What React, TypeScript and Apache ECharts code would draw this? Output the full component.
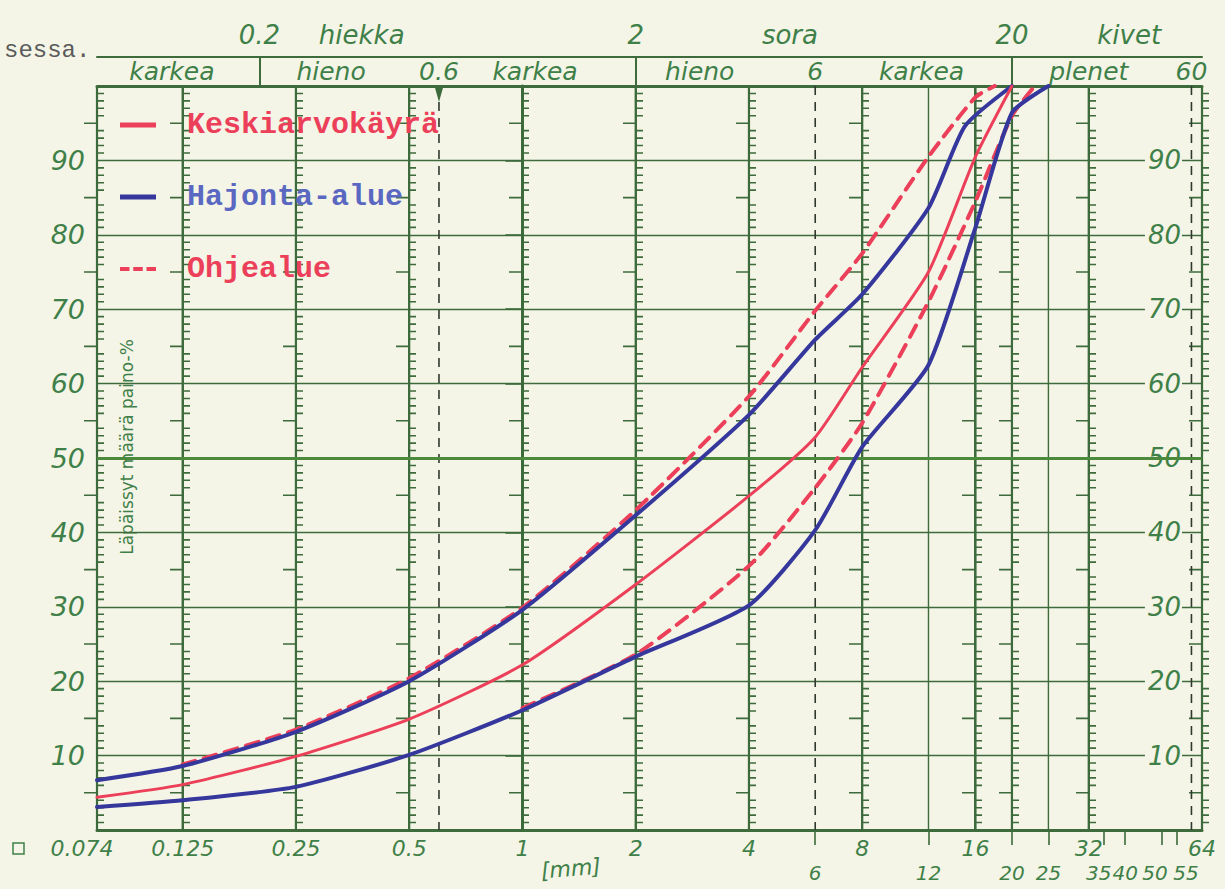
import React, { useEffect, useRef } from 'react';
import * as echarts from 'echarts';

const L = (d: number) => Math.log2(d);

// grain size (mm) -> passing (paino-%)
const meanCurve: [number, number][] = [
  [0.074, 4.4], [0.125, 6.1], [0.25, 9.9], [0.5, 14.9], [1, 22.2], [2, 33], [4, 44.9],
  [6, 52.8], [8, 62.2], [12, 75], [16, 90.5], [20, 100],
];
const spreadUpper: [number, number][] = [
  [0.074, 6.7], [0.125, 8.6], [0.25, 13.2], [0.5, 20], [1, 29.6], [2, 42.3], [4, 55.8],
  [6, 65.9], [8, 72], [12, 83.6], [15, 94.6], [20, 100],
];
const spreadLower: [number, number][] = [
  [0.074, 3.1], [0.125, 4.0], [0.25, 5.8], [0.5, 10.1], [1, 16.1], [2, 23.3], [4, 30.2],
  [6, 40.3], [8, 51.5], [12, 62.5], [16, 81], [20, 96.4], [25, 100],
];
const guideUpper: [number, number][] = [
  [0.125, 8.8], [0.25, 13.5], [0.5, 20.4], [1, 29.9], [2, 43], [4, 58.3], [6, 69.8],
  [8, 77.5], [12, 90.5], [16, 98.5], [18, 100],
];
const guideLower: [number, number][] = [
  [1, 16.4], [2, 23.6], [4, 35.5], [6, 46], [8, 54.7], [12, 71], [16, 84.5], [20, 96], [23, 100],
];

const majorLines = [0.074, 0.125, 0.25, 0.5, 1, 2, 4, 8, 16, 20, 32, 64];
const thinLines = [12, 25];
const dashedLines = [0.6, 6, 60];
const markerSize = 0.6;

const bottomLabelSizes = [0.074, 0.125, 0.25, 0.5, 1, 2, 4, 8, 16, 32, 64];
const bottomLabels = ['0.074', '0.125', '0.25', '0.5', '1', '2', '4', '8', '16', '32', '64'];
const bottomSubTicks = [6, 12, 20, 25, 35, 40, 50, 55];
const bottomSubLabelAt = [6, 12, 20, 25, 34, 40, 48, 58];
const bottomSubLabels = ['6', '12', '20', '25', '35', '40', '50', '55'];

const topClassTicks = [0.2, 2, 20];
const topRow1At = [0.2, 0.374, 2, 5.14, 20, 41];
const topRow1Labels = ['0.2', 'hiekka', '2', 'sora', '20', 'kivet'];
const topRow2At = [0.117, 0.31, 0.6, 1.08, 2.96, 6, 11.5, 32, 60];
const topRow2Labels = ['karkea', 'hieno', '0.6', 'karkea', 'hieno', '6', 'karkea', 'plenet', '60'];

const GREEN = '#3d6b3c';
const LGREEN = '#3f8049';
const RED = '#ec3f5a';
const BLUE = '#35379c';
const BLUE_TEXT = '#5a68c2';
const PAPER = '#f4f5e6';

const X_MIN = L(0.074);
const X_MAX = L(64);

const fmt = (sizes: number[], texts: string[]) => (v: number) => {
  const i = sizes.findIndex((s) => Math.abs(L(s) - v) < 1e-6);
  return i >= 0 ? texts[i] : '';
};

const greenFont = {
  color: LGREEN,
  fontStyle: 'italic' as const,
  fontFamily: 'DejaVu Sans',
};

export default function App() {
  const ref = useRef<HTMLDivElement>(null);
  useEffect(() => {
    const chart = echarts.init(ref.current!, null, { renderer: 'svg' });
    const toXY = (arr: [number, number][]) => arr.map(([d, p]) => [L(d), p]);
    const rulerData = [
      ...majorLines.map((d) => [L(d), 0, 0]),
      ...thinLines.map((d) => [L(d), 0, 1]),
      ...dashedLines.map((d) => [L(d), 0, 2]),
    ];
    const baseX = { type: 'value', min: X_MIN, max: X_MAX, splitLine: { show: false } };
    const lineSeries = (name: string, data: [number, number][], color: string, width: number, dashed: boolean) => ({
      type: 'line',
      name,
      data: toXY(data),
      symbol: 'none',
      smooth: 0.2,
      z: 5,
      lineStyle: { color, width, type: dashed ? [13, 9] : 'solid', cap: 'round' },
      itemStyle: { color },
    });
    const option: any = {
      animation: false,
      backgroundColor: PAPER,
      grid: { left: 97, right: 23, top: 86, bottom: 59 },
      legend: {
        orient: 'vertical',
        left: 115,
        top: 105,
        itemWidth: 36,
        itemHeight: 5,
        itemGap: 42,
        textStyle: {
          fontFamily: 'Liberation Mono',
          fontWeight: 'bold',
          fontSize: 30,
          padding: [0, 0, 0, 26],
        },
        data: [
          { name: 'Keskiarvokäyrä', icon: 'rect', textStyle: { color: RED } },
          { name: 'Hajonta-alue', icon: 'rect', textStyle: { color: BLUE_TEXT } },
          {
            name: 'Ohjealue',
            icon: 'path://M0,0h10v4h-10z M14,0h10v4h-10z M28,0h10v4h-10z',
            textStyle: { color: RED },
          },
        ],
      },
      xAxis: [
        {
          ...baseX,
          position: 'bottom',
          axisLine: { show: true, lineStyle: { color: GREEN, width: 3 } },
          axisTick: { show: false },
          axisLabel: {
            customValues: bottomLabelSizes.map(L),
            margin: 7,
            fontSize: 22,
            ...greenFont,
            formatter: (v: number) => {
              const t = fmt(bottomLabelSizes, bottomLabels)(v);
              return t === '0.074' ? '{f|0.074}' : t;
            },
            rich: { f: { fontSize: 22, ...greenFont, padding: [0, 30, 0, 0] } },
          },
        },
        {
          ...baseX,
          position: 'bottom',
          axisLine: { show: false },
          axisTick: {
            show: true,
            customValues: bottomSubTicks.map(L),
            length: 15,
            lineStyle: { color: GREEN, width: 1.6 },
          },
          axisLabel: {
            customValues: bottomSubLabelAt.map(L),
            margin: 33,
            fontSize: 20,
            ...greenFont,
            formatter: fmt(bottomSubLabelAt, bottomSubLabels),
          },
        },
        {
          ...baseX,
          position: 'top',
          offset: 29,
          axisLine: { show: true, lineStyle: { color: GREEN, width: 2 } },
          axisTick: {
            show: true,
            inside: true,
            customValues: topClassTicks.map(L),
            length: 29,
            lineStyle: { color: GREEN, width: 2 },
          },
          axisLabel: {
            customValues: topRow1At.map(L),
            margin: 9,
            fontSize: 26,
            ...greenFont,
            formatter: fmt(topRow1At, topRow1Labels),
          },
        },
        {
          ...baseX,
          position: 'top',
          axisLine: { show: true, lineStyle: { color: GREEN, width: 3 } },
          axisTick: { show: false },
          axisLabel: {
            customValues: topRow2At.map(L),
            margin: 2,
            fontSize: 25,
            ...greenFont,
            formatter: fmt(topRow2At, topRow2Labels),
          },
        },
      ],
      yAxis: [
        {
          type: 'value',
          min: 0,
          max: 100,
          interval: 10,
          position: 'left',
          axisLine: { show: true, lineStyle: { color: GREEN, width: 3 } },
          axisTick: { show: false },
          splitLine: { show: true, lineStyle: { color: GREEN, width: 1.4 } },
          axisLabel: {
            margin: 12,
            fontSize: 27,
            ...greenFont,
            formatter: (v: number) => (v === 0 || v === 100 ? '' : String(v)),
          },
        },
        {
          type: 'value',
          min: 0,
          max: 100,
          interval: 10,
          position: 'right',
          axisLine: { show: true, lineStyle: { color: GREEN, width: 2.5 } },
          axisTick: { show: true, inside: true, length: 17, lineStyle: { color: GREEN, width: 1.6 } },
          splitLine: { show: false },
          axisLabel: {
            inside: true,
            margin: 20,
            fontSize: 26,
            ...greenFont,
            backgroundColor: PAPER,
            padding: [0, 1, 0, 3],
            formatter: (v: number) => (v === 0 || v === 100 ? '' : String(v)),
          },
        },
      ],
      series: [
        {
          type: 'custom',
          name: 'rulers',
          coordinateSystem: 'cartesian2d',
          xAxisIndex: 0,
          yAxisIndex: 0,
          data: rulerData,
          encode: { x: 0, y: 1 },
          silent: true,
          clip: false,
          z: 1,
          renderItem: (params: any, api: any) => {
            const x = api.value(0);
            const kind = api.value(2);
            const top = api.coord([x, 100]);
            const bot = api.coord([x, 0]);
            const children: any[] = [];
            const vStyle: any = {
              stroke: kind === 2 ? '#2f3a2f' : GREEN,
              lineWidth: kind === 0 ? 2.2 : kind === 1 ? 1.4 : 1.6,
            };
            if (kind === 2) vStyle.lineDash = [9, 7];
            children.push({
              type: 'line',
              shape: { x1: top[0], y1: top[1], x2: bot[0], y2: bot[1] },
              style: vStyle,
            });
            if (kind === 0) {
              const right: number[][] = [];
              const left: number[][] = [];
              for (let p = 0; p <= 100; p++) {
                const c = api.coord([x, p]);
                const px = Math.round(c[0]);
                if (p % 10 !== 0 && p % 5 !== 0) {
                  right.push([px, c[1]], [px + 7, c[1]], [px, c[1]]);
                } else {
                  right.push([px, c[1]]);
                }
                if (p % 10 === 5) {
                  left.push([px, c[1]], [px - 13, c[1]], [px, c[1]]);
                } else {
                  left.push([px, c[1]]);
                }
              }
              children.push({
                type: 'polyline',
                shape: { points: right },
                style: { stroke: GREEN, lineWidth: 1.6, fill: 'none' },
              });
              children.push({
                type: 'polyline',
                shape: { points: left },
                style: { stroke: GREEN, lineWidth: 1.6, fill: 'none' },
              });
            }
            return { type: 'group', children };
          },
          markLine: {
            silent: true,
            symbol: 'none',
            label: { show: false },
            lineStyle: { color: '#4b8a3c', width: 3, type: 'solid' },
            data: [{ yAxis: 50 }],
          },
          markPoint: {
            silent: true,
            label: { show: false },
            itemStyle: { color: GREEN },
            data: [
              {
                coord: [L(markerSize), 100],
                symbol: 'triangle',
                symbolRotate: 180,
                symbolSize: [9, 16],
                symbolOffset: [0, 8],
              },
            ],
          },
        },
        lineSeries('Ohjealue', guideUpper, RED, 4, true),
        lineSeries('Ohjealue', guideLower, RED, 4, true),
        lineSeries('Hajonta-alue', spreadUpper, BLUE, 4, false),
        lineSeries('Hajonta-alue', spreadLower, BLUE, 4, false),
        lineSeries('Keskiarvokäyrä', meanCurve, RED, 3, false),
      ],
      graphic: [
        {
          type: 'text',
          x: 4,
          y: 38,
          style: { text: 'sessa.', fontFamily: 'Liberation Mono', fontSize: 24, fill: '#5b5b5b' },
        },
        {
          type: 'text',
          x: 127,
          y: 447,
          rotation: Math.PI / 2,
          style: {
            text: 'Läpäissyt määrä paino-%',
            fontFamily: 'DejaVu Sans',
            fontSize: 17,
            fill: LGREEN,
            align: 'center',
            verticalAlign: 'middle',
          },
        },
        {
          type: 'rect',
          shape: { x: 13, y: 843, width: 11, height: 11 },
          style: { fill: 'none', stroke: LGREEN, lineWidth: 1.5 },
        },
        {
          type: 'text',
          x: 540,
          y: 860,
          rotation: 0.08,
          style: { text: '[mm]', fontSize: 22, fontStyle: 'italic', fontFamily: 'DejaVu Sans', fill: LGREEN },
        },
      ],
    };
    chart.setOption(option);
    return () => chart.dispose();
  }, []);
  return <div ref={ref} style={{ position: 'fixed', left: 0, top: 0, width: 1225, height: 889 }} />;
}
